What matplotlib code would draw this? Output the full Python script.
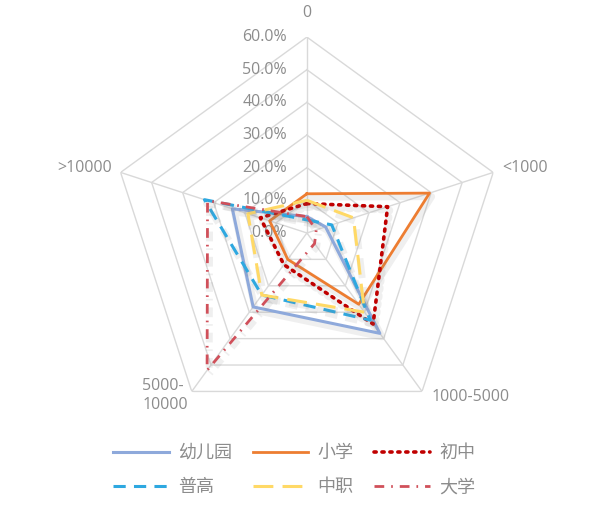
import numpy as np
import matplotlib.pyplot as plt
import matplotlib.patheffects as pe

plt.rcParams['font.family'] = ['Noto Sans CJK SC', 'DejaVu Sans']

categories = ['0', '<1000', '1000-5000', '5000-\n10000', '>10000']
rings = [0.0, 0.1, 0.2, 0.3, 0.4, 0.5, 0.6]

series_names = ['幼儿园', '小学', '初中', '普高', '中职', '大学']
kindergarten = [0.05, 0.06, 0.38, 0.28, 0.24]
primary = [0.12, 0.395, 0.27, 0.10, 0.12]
junior = [0.09, 0.26, 0.345, 0.12, 0.15]
senior = [0.04, 0.08, 0.33, 0.235, 0.33]
vocational = [0.10, 0.15, 0.30, 0.235, 0.19]
university = [0.05, 0.03, 0.04, 0.52, 0.32]

series_values = [kindergarten, primary, junior, senior, vocational, university]
colors = ['#8EA9DB', '#ED7D31', '#C00000', '#2EA8E0', '#FFD966', '#D0505A']
styles = ['-', '-', (0, (0.6, 1.6)), (0, (4, 2.7)), (0, (6.5, 3)), (0, (3.5, 2.5, 0.6, 2.5))]
widths = [2.2, 2.0, 2.6, 2.2, 2.2, 2.0]

fig = plt.figure(figsize=(6, 5.12), dpi=100)
ax = fig.add_axes([0.185, 0.162, 0.653, 0.766], projection='polar')
ax.set_theta_offset(np.pi / 2)
ax.set_theta_direction(-1)
ax.set_ylim(0, 0.6)
ax.axis('off')

angles = np.linspace(0, 2 * np.pi, len(categories), endpoint=False)
closed = np.append(angles, angles[0])

grid_col = '#D9D9D9'
for r in rings[1:]:
    ax.plot(closed, [r] * len(closed), color=grid_col, lw=1, zorder=1)
for a in angles:
    ax.plot([a, a], [0, 0.6], color=grid_col, lw=1, zorder=1)

shadow = [pe.SimpleLineShadow(offset=(1.5, -2.5), shadow_color='#7F7F7F', alpha=0.12, linewidth=5),
          pe.Normal()]
for name, vals, c, ls, lw in zip(series_names, series_values, colors, styles, widths):
    v = np.append(vals, vals[0])
    line, = ax.plot(closed, v, color=c, ls=ls, lw=lw, label=name, zorder=3,
                    path_effects=shadow)
    if ls == (0, (0.6, 1.6)):
        line.set_dash_capstyle('round')

tick_col = '#8C8C8C'
for r in rings:
    ax.annotate(f'{r * 100:.1f}%', xy=(0, r), xytext=(-20, 0), textcoords='offset pixels',
                ha='right', va='center', fontsize=11.5, color=tick_col,
                family=['Open Sans', 'DejaVu Sans'], zorder=2)

offsets = [(0, 16), (9, 4), (9, -6), (-4, -4), (-9, 4)]
aligns = [('center', 'bottom'), ('left', 'center'), ('left', 'center'),
          ('right', 'center'), ('right', 'center')]
for a, lab, off, (ha, va) in zip(angles, categories, offsets, aligns):
    ax.annotate(lab, xy=(a, 0.6), xytext=off, textcoords='offset pixels',
                ha=ha, va=va, fontsize=11.5, color=tick_col, multialignment='left',
                family=['Open Sans', 'DejaVu Sans'], annotation_clip=False)

# legend fills column-wise, so reorder to read row by row
order = [0, 3, 1, 4, 2, 5]
plain = []
for i in order:
    h = plt.Line2D([], [], color=colors[i], ls=styles[i], lw=widths[i])
    if i == 2:
        h.set_dash_capstyle('round')
    plain.append(h)
leg = fig.legend(plain, [series_names[i] for i in order], loc='center',
                 bbox_to_anchor=(0.49, 0.082), ncol=3, frameon=False,
                 fontsize=13, handlelength=3.1, handletextpad=0.5, columnspacing=1.15,
                 labelspacing=0.9)
for t in leg.get_texts():
    t.set_color(tick_col)

fig.savefig('out.png', dpi=100)
